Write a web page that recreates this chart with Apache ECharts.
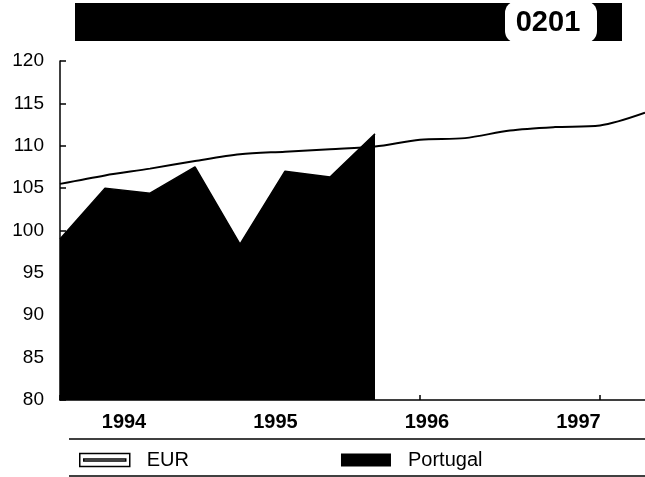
<!DOCTYPE html>
<html>
<head>
<meta charset="utf-8">
<script src="https://cdn.jsdelivr.net/npm/echarts@6/dist/echarts.min.js"></script>
<style>
html, body { margin: 0; padding: 0; background: #fff; }
#chart { width: 645px; height: 477px; }
</style>
</head>
<body>
<div id="chart"></div>
<script>
// quarters, 1994 Q1 .. 1997 Q2
var quarters = ['1994Q1','1994Q2','1994Q3','1994Q4','1995Q1','1995Q2','1995Q3','1995Q4',
                '1996Q1','1996Q2','1996Q3','1996Q4','1997Q1','1997Q2'];
var eur      = [105.5, 106.5, 107.3, 108.2, 109.0, 109.3, 109.6, 109.9,
                110.7, 110.9, 111.8, 112.2, 112.4, 113.9];
var portugal = [99.0, 105.0, 104.4, 107.5, 98.4, 107.0, 106.3, 111.4,
                null, null, null, null, null, null];
var yearLabels = ['1994', '1995', '1996', '1997'];
var headerCode = '0201';

var font = 'Liberation Sans, Arial, Helvetica, sans-serif';
var myChart = echarts.init(document.getElementById('chart'));

var option = {
  animation: false,
  backgroundColor: '#fff',
  grid: [
    { left: 60, right: 0, top: 61, bottom: 77 },
    // only carries the year labels (label i sits at value i)
    { left: 124, right: 0, top: 61, bottom: 77 }
  ],
  xAxis: [
    {
      type: 'category',
      gridIndex: 0,
      data: quarters,
      boundaryGap: false,
      axisLine: { lineStyle: { color: '#000', width: 1.5 } },
      axisTick: { show: true, inside: true, length: 5, interval: 3, lineStyle: { color: '#000', width: 1.5 } },
      axisLabel: { show: false },
      splitLine: { show: false }
    },
    {
      type: 'value',
      gridIndex: 1,
      min: 0,
      max: 3.42,
      interval: 1,
      axisLine: { show: false },
      axisTick: { show: false },
      splitLine: { show: false },
      axisLabel: {
        color: '#000', fontSize: 20, fontWeight: 'bold', fontFamily: font, margin: 12,
        formatter: function (v) { return yearLabels[v] || ''; }
      }
    }
  ],
  yAxis: [
    {
      type: 'value',
      gridIndex: 0,
      min: 80,
      max: 120,
      interval: 5,
      axisLine: { show: true, lineStyle: { color: '#000', width: 1.5 } },
      axisTick: { show: true, inside: true, length: 6, lineStyle: { color: '#000', width: 1.5 } },
      axisLabel: { color: '#000', fontSize: 19, fontFamily: font, margin: 16 },
      splitLine: { show: false }
    },
    {
      type: 'value',
      gridIndex: 1,
      min: 80,
      max: 120,
      show: false
    }
  ],
  legend: {
    left: 79,
    top: 450,
    padding: 0,
    itemWidth: 50,
    itemHeight: 13,
    itemGap: 152,
    textStyle: { color: '#000', fontSize: 20, fontFamily: font, padding: [0, 0, 0, 12] },
    data: [
      {
        name: 'EUR',
        icon: 'path://M0,0H50V13H0Z M4,5.5H46V7.5H4Z',
        itemStyle: { color: '#fff', borderColor: '#000', borderWidth: 1.5 }
      },
      { name: 'Portugal', icon: 'rect', itemStyle: { color: '#000' } }
    ]
  },
  graphic: [
    // header bar
    { type: 'rect', shape: { x: 75, y: 3, width: 547, height: 38 }, style: { fill: '#000' } },
    { type: 'rect', shape: { x: 505, y: 1, width: 92, height: 42, r: 12 }, style: { fill: '#fff' } },
    {
      type: 'text', x: 548, y: 23,
      style: { text: headerCode, fill: '#000', font: 'bold 29px ' + font, align: 'center', verticalAlign: 'middle' }
    },
    // legend rules
    { type: 'line', shape: { x1: 69, y1: 439, x2: 645, y2: 439 }, style: { stroke: '#000', lineWidth: 1.5 } },
    { type: 'line', shape: { x1: 69, y1: 476, x2: 645, y2: 476 }, style: { stroke: '#000', lineWidth: 1.5 } }
  ],
  series: [
    {
      name: 'Portugal',
      type: 'line',
      xAxisIndex: 0,
      yAxisIndex: 0,
      data: portugal,
      symbol: 'none',
      connectNulls: false,
      lineStyle: { color: '#000', width: 1.5 },
      itemStyle: { color: '#000' },
      areaStyle: { color: '#000', opacity: 1 },
      z: 2
    },
    {
      name: 'EUR',
      type: 'line',
      xAxisIndex: 0,
      yAxisIndex: 0,
      data: eur,
      symbol: 'none',
      smooth: 0.3,
      lineStyle: { color: '#000', width: 2 },
      itemStyle: { color: '#000' },
      z: 3
    }
  ]
};

myChart.setOption(option);
</script>
</body>
</html>
